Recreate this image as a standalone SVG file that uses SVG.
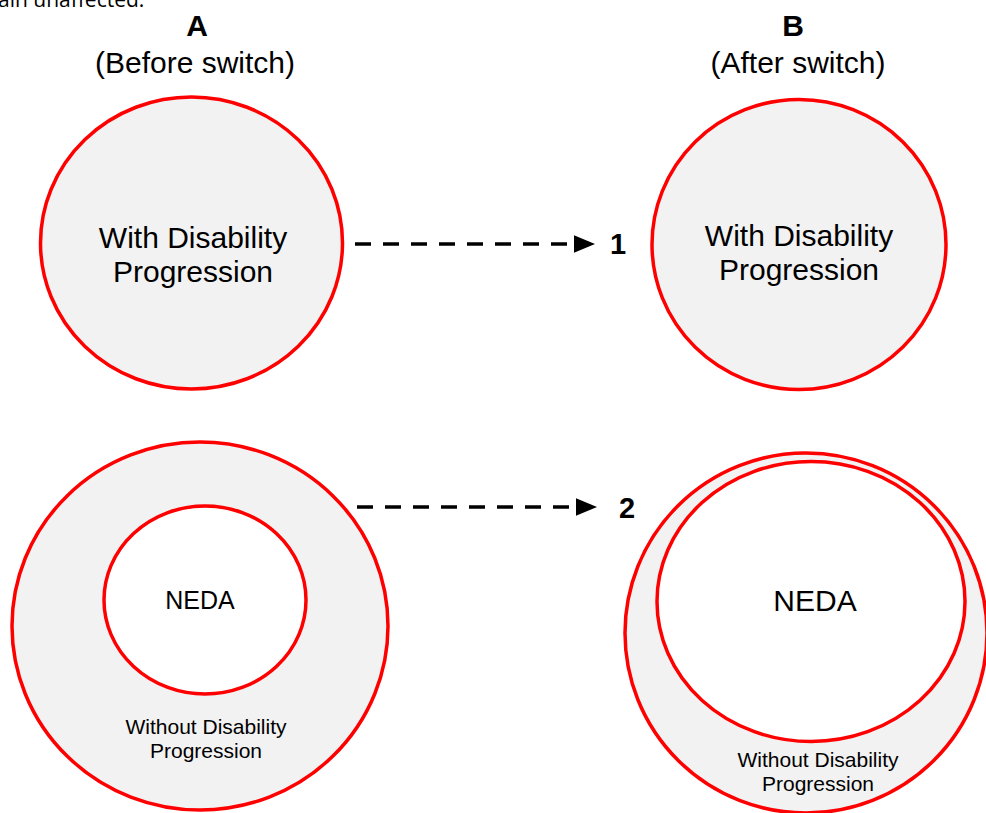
<svg xmlns="http://www.w3.org/2000/svg" width="986" height="813" viewBox="0 0 986 813">
<defs>
<style>
.c{stroke:#ff0000;stroke-width:3.5;}
.g{fill:#f2f2f2;}
.w{fill:#ffffff;}
.t{font-family:"Liberation Sans",Arial,sans-serif;fill:#000;text-anchor:middle;}
.b{font-weight:bold;}
.d{stroke:#000;stroke-width:3.5;stroke-dasharray:16 12;fill:none;}
</style>
<marker id="ah" markerWidth="6" markerHeight="5" refX="0" refY="2.5" orient="auto" markerUnits="strokeWidth">
<path d="M0,0 L6,2.5 L0,5 Z" fill="#000"/>
</marker>
</defs>
<rect width="986" height="813" fill="#fff"/>
<text x="-2" y="7" font-family="'Open Sans',sans-serif" font-size="21" fill="#000">ain unaffected.</text>
<g id="headerA">
<text class="t b" x="197" y="36" font-size="30">A</text>
<text class="t" x="195" y="73" font-size="30">(Before switch)</text>
</g>
<g id="headerB">
<text class="t b" x="793" y="36" font-size="30">B</text>
<text class="t" x="798" y="73" font-size="30">(After switch)</text>
</g>
<g id="A1">
<ellipse class="c g" cx="191.5" cy="243" rx="151" ry="146"/>
<text class="t" x="193" y="248" font-size="30">With Disability</text>
<text class="t" x="193" y="282" font-size="30">Progression</text>
</g>
<g id="B1">
<ellipse class="c g" cx="799" cy="244.5" rx="147" ry="145"/>
<text class="t" x="799" y="246" font-size="30">With Disability</text>
<text class="t" x="799" y="280" font-size="30">Progression</text>
</g>
<g id="A2">
<ellipse class="c g" cx="200" cy="626" rx="188" ry="184"/>
<ellipse class="c w" cx="205" cy="600" rx="101" ry="94"/>
<text class="t" x="200" y="609" font-size="25">NEDA</text>
<text class="t" x="206" y="734" font-size="21">Without Disability</text>
<text class="t" x="206" y="758" font-size="21">Progression</text>
</g>
<g id="B2">
<ellipse class="c g" cx="806" cy="633" rx="181" ry="180"/>
<ellipse class="c w" cx="811" cy="601.5" rx="154" ry="140"/>
<text class="t" x="815" y="611" font-size="30">NEDA</text>
<text class="t" x="818" y="767" font-size="21">Without Disability</text>
<text class="t" x="818" y="791" font-size="21">Progression</text>
</g>
<g id="connectors">
<path class="d" d="M355,244 H574" marker-end="url(#ah)"/>
<path class="d" d="M357,507 H576" marker-end="url(#ah)"/>
</g>
<g id="labels">
<text class="t b" x="618" y="254" font-size="29">1</text>
<text class="t b" x="627" y="518" font-size="29">2</text>
</g>
</svg>
